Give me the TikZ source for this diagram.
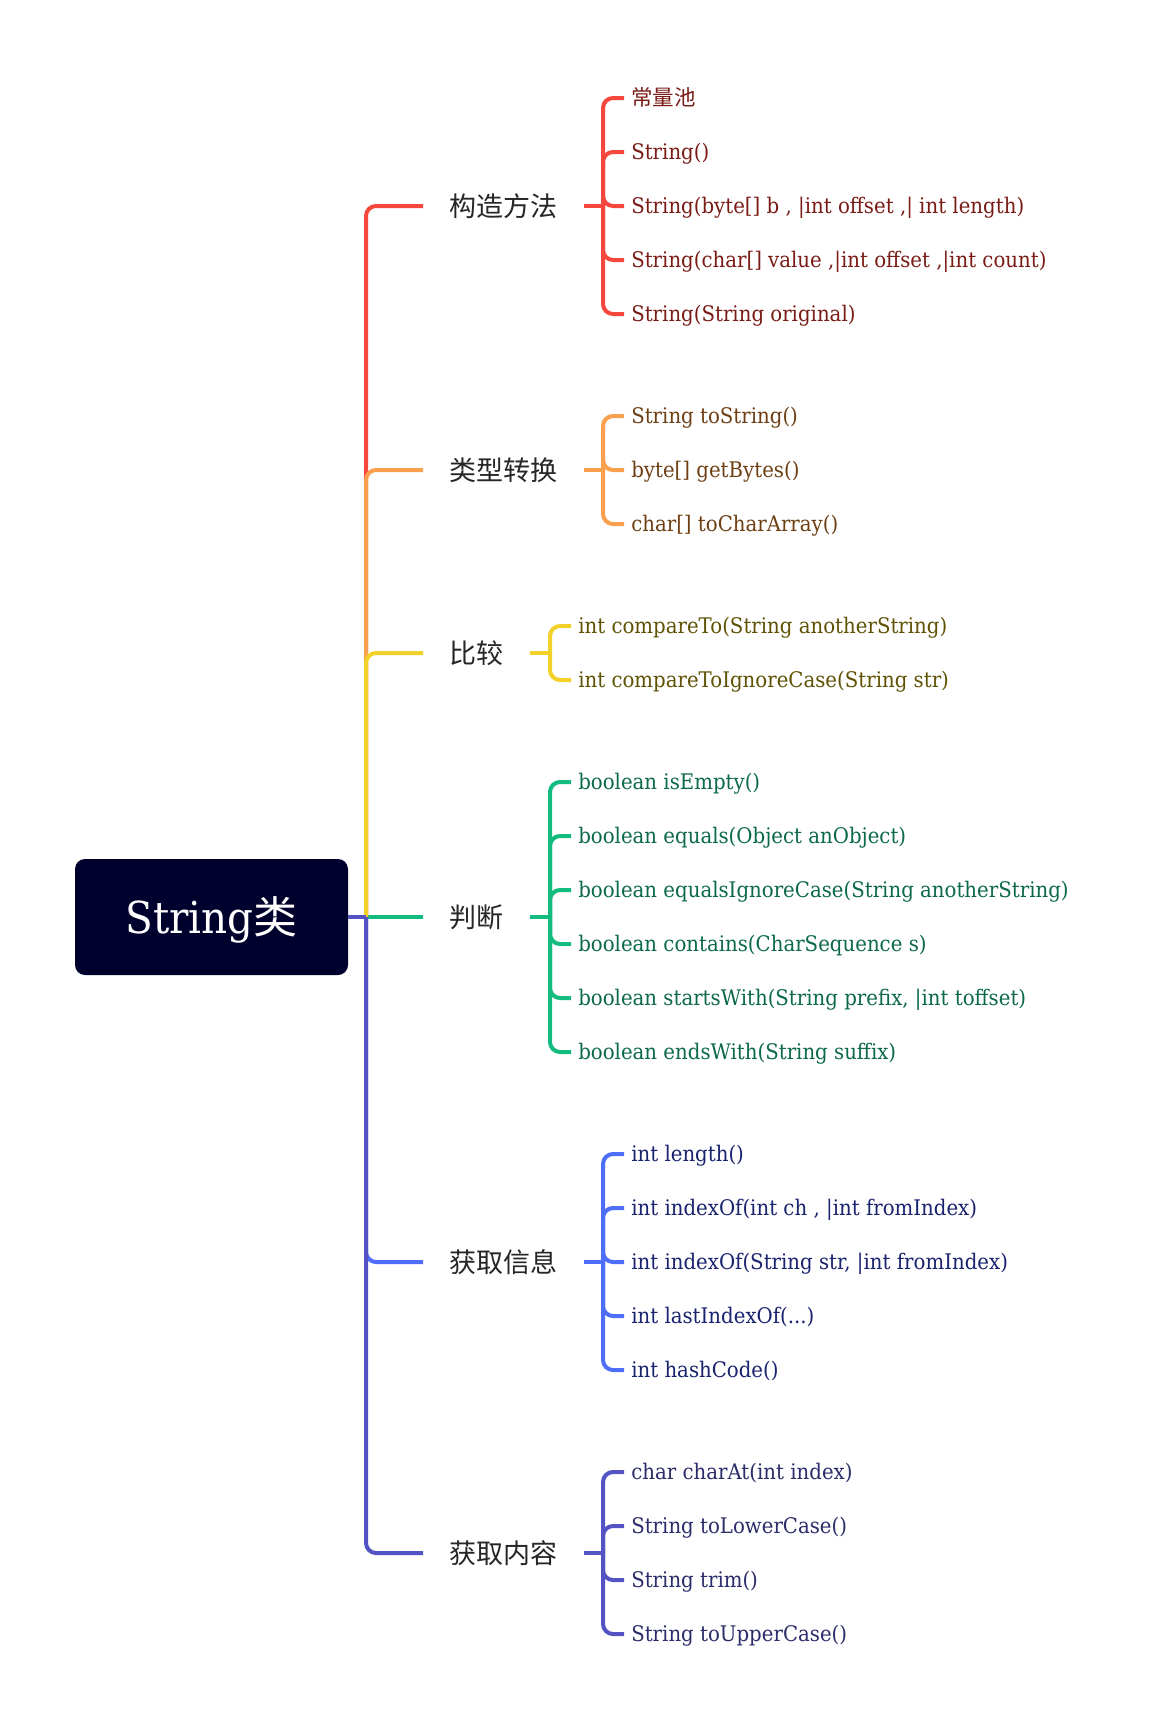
\documentclass[tikz,border=0pt]{standalone}
\usepackage{fontspec}
\setmainfont{DejaVu Serif}[FakeStretch=0.92]
\newfontfamily\cjk{Noto Sans CJK SC}
\definecolor{cA}{HTML}{F5473D}\definecolor{tA}{HTML}{7A1C16}
\definecolor{cB}{HTML}{F8A04E}\definecolor{tB}{HTML}{6E3F13}
\definecolor{cC}{HTML}{F2D12B}\definecolor{tC}{HTML}{5F5205}
\definecolor{cD}{HTML}{12BC7E}\definecolor{tD}{HTML}{0C6A47}
\definecolor{cE}{HTML}{4F6EF7}\definecolor{tE}{HTML}{19236E}
\definecolor{cF}{HTML}{5353C4}\definecolor{tF}{HTML}{2B2C6A}
\definecolor{rootc}{HTML}{00002C}
\definecolor{labc}{HTML}{262626}
\begin{document}
\begin{tikzpicture}[x=0.75pt,y=-0.75pt,
  conn/.style={line width=3pt},
  rc/.style={rounded corners=7.5pt},
  lab/.style={anchor=west, inner xsep=19.5pt, inner ysep=0pt, text height=17pt, text depth=2pt,
    font=\cjk\fontsize{20.25pt}{24pt}\selectfont, text=labc},
  leaf/.style={anchor=west, inner xsep=5.25pt, inner ysep=0pt, text height=14.4pt, text depth=2.5pt,
    font=\fontsize{16.1pt}{19pt}\selectfont}]
\fill[white] (0,0) rectangle (1161,1731);
\useasboundingbox (0,0) rectangle (1161,1731);

% root
\node[fill=rootc, rounded corners=7.5pt, minimum width=204.75pt, minimum height=87pt, inner sep=0pt,
  text=white, text height=28pt, text depth=4pt, font=\fontsize{33pt}{40pt}\selectfont]
  (root) at (211.5,917) {String{\cjk 类}};
\coordinate (T) at (366,917);

% branch labels
\node[lab] (b1) at (423,206) {构造方法};
\node[lab] (b2) at (423,470) {类型转换};
\node[lab] (b3) at (423,653) {比较};
\node[lab] (b4) at (423,917) {判断};
\node[lab] (b5) at (423,1262) {获取信息};
\node[lab] (b6) at (423,1553) {获取内容};

% bracket points
\coordinate (k1) at (603,206);
\coordinate (k2) at (603,470);
\coordinate (k3) at (550,653);
\coordinate (k4) at (550,917);
\coordinate (k5) at (603,1262);
\coordinate (k6) at (603,1553);

% leaves
\node[leaf,text=tA] (a1) at (624,98) {{\cjk 常量池}};
\node[leaf,text=tA] (a2) at (624,152) {String()};
\node[leaf,text=tA] (a3) at (624,206) {String(byte[] b , |int offset ,| int length)};
\node[leaf,text=tA] (a4) at (624,260) {String(char[] value ,|int offset ,|int count)};
\node[leaf,text=tA] (a5) at (624,314) {String(String original)};

\node[leaf,text=tB] (e1) at (624,416) {String toString()};
\node[leaf,text=tB] (e2) at (624,470) {byte[] getBytes()};
\node[leaf,text=tB] (e3) at (624,524) {char[] toCharArray()};

\node[leaf,text=tC] (g1) at (571,626) {int compareTo(String anotherString)};
\node[leaf,text=tC] (g2) at (571,680) {int compareToIgnoreCase(String str)};

\node[leaf,text=tD] (h1) at (571,782) {boolean isEmpty()};
\node[leaf,text=tD] (h2) at (571,836) {boolean equals(Object anObject)};
\node[leaf,text=tD] (h3) at (571,890) {boolean equalsIgnoreCase(String anotherString)};
\node[leaf,text=tD] (h4) at (571,944) {boolean contains(CharSequence s)};
\node[leaf,text=tD] (h5) at (571,998) {boolean startsWith(String prefix, |int toffset)};
\node[leaf,text=tD] (h6) at (571,1052) {boolean endsWith(String suffix)};

\node[leaf,text=tE] (m1) at (624,1154) {int length()};
\node[leaf,text=tE] (m2) at (624,1208) {int indexOf(int ch , |int fromIndex)};
\node[leaf,text=tE] (m3) at (624,1262) {int indexOf(String str, |int fromIndex)};
\node[leaf,text=tE] (m4) at (624,1316) {int lastIndexOf(...)};
\node[leaf,text=tE] (m5) at (624,1370) {int hashCode()};

\node[leaf,text=tF] (p1) at (624,1472) {char charAt(int index)};
\node[leaf,text=tF] (p2) at (624,1526) {String toLowerCase()};
\node[leaf,text=tF] (p3) at (624,1580) {String trim()};
\node[leaf,text=tF] (p4) at (624,1634) {String toUpperCase()};

% trunk connectors
\draw[conn,cD] (T) -- (b4.west);
\draw[conn,rc,cA] (T) |- (b1.west);
\draw[conn,rc,cB] (T) |- (b2.west);
\draw[conn,rc,cC] (T) |- (b3.west);
\draw[conn,rc,cE] (T) |- (b5.west);
\draw[conn,rc,cF] (T) |- (b6.west);
\draw[conn,cF] (root.east) -- (T);

% sub connectors
\draw[conn,cA] (b1.east) -- (k1);
\foreach \n in {a1,a2,a3,a4,a5} \draw[conn,rc,cA] (k1) |- (\n.west);
\draw[conn,cB] (b2.east) -- (k2);
\foreach \n in {e1,e2,e3} \draw[conn,rc,cB] (k2) |- (\n.west);
\draw[conn,cC] (b3.east) -- (k3);
\foreach \n in {g1,g2} \draw[conn,rc,cC] (k3) |- (\n.west);
\draw[conn,cD] (b4.east) -- (k4);
\foreach \n in {h1,h2,h3,h4,h5,h6} \draw[conn,rc,cD] (k4) |- (\n.west);
\draw[conn,cE] (b5.east) -- (k5);
\foreach \n in {m1,m2,m3,m4,m5} \draw[conn,rc,cE] (k5) |- (\n.west);
\draw[conn,cF] (b6.east) -- (k6);
\foreach \n in {p1,p2,p3,p4} \draw[conn,rc,cF] (k6) |- (\n.west);
\end{tikzpicture}
\end{document}
